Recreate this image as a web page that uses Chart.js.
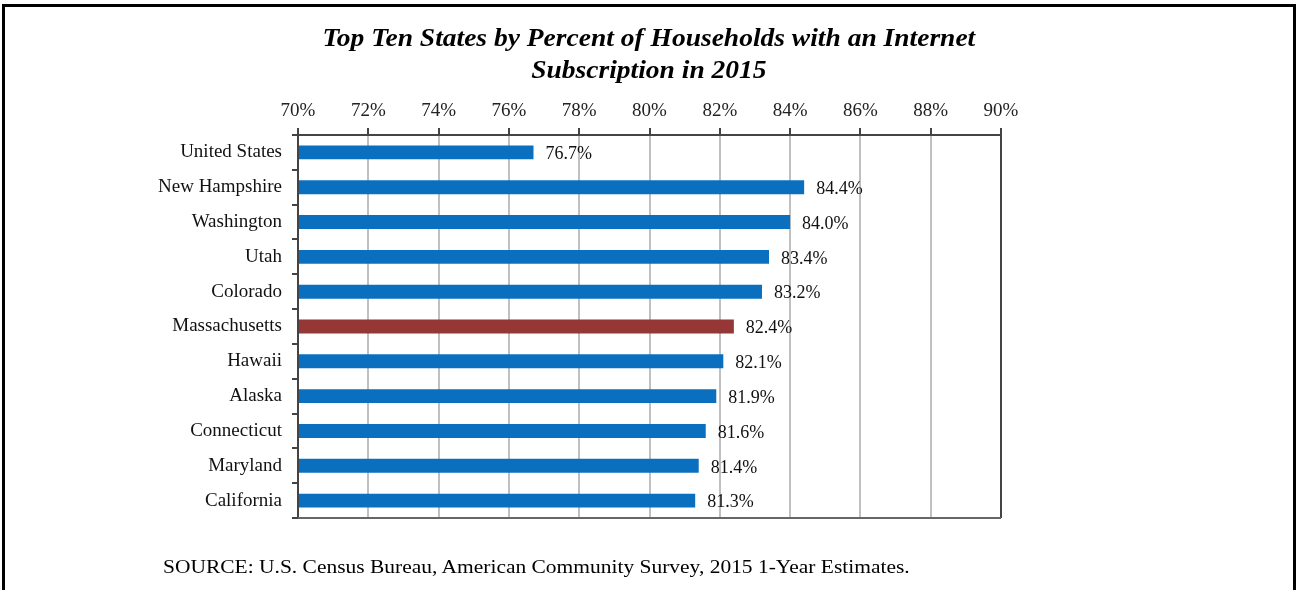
<!DOCTYPE html>
<html>
<head>
<meta charset="utf-8">
<script src="https://cdn.jsdelivr.net/npm/chart.js@4/dist/chart.umd.min.js"></script>
<style>
  body { margin: 0; background: #fff; }
  #wrap { position: relative; width: 1298px; height: 590px; overflow: hidden; }
  #frame { position: absolute; left: 2px; top: 4px; width: 1288px; height: 600px; border: 3px solid #000; }
  #title { position: absolute; left: 0; top: 22px; width: 1298px; text-align: center;
    font: italic bold 25px "Liberation Serif", serif; line-height: 32px; color: #000;
    transform: scaleX(1.1); transform-origin: 650px 0; }
  #source { position: absolute; left: 163px; top: 556px;
    font: 19px "Liberation Serif", serif; color: #000;
    transform: scaleX(1.13); transform-origin: 0 0; white-space: nowrap; }
  canvas { position: absolute; left: 0; top: 0; }
</style>
</head>
<body>
<div id="wrap">
  <div id="frame"></div>
  <canvas id="myChart" width="1298" height="590"></canvas>
  <div id="title">Top Ten States by Percent of Households with an Internet<br>Subscription in 2015</div>
  <div id="source">SOURCE: U.S. Census Bureau, American Community Survey, 2015 1-Year Estimates.</div>
</div>
<script>
const states = ['United States', 'New Hampshire', 'Washington', 'Utah', 'Colorado',
  'Massachusetts', 'Hawaii', 'Alaska', 'Connecticut', 'Maryland', 'California']
const percents = [76.7, 84.4, 84.0, 83.4, 83.2, 82.4, 82.1, 81.9, 81.6, 81.4, 81.3]
const xTicks = [70, 72, 74, 76, 78, 80, 82, 84, 86, 88, 90]

const serif = '"Liberation Serif", "Times New Roman", serif'

// value labels right of each bar
const valueLabels = {
  id: 'valueLabels',
  afterDatasetsDraw(chart) {
    const ctx = chart.ctx
    const meta = chart.getDatasetMeta(0)
    ctx.save()
    ctx.font = '18px ' + serif
    ctx.fillStyle = '#111'
    ctx.textBaseline = 'middle'
    meta.data.forEach((bar, i) => {
      ctx.fillText(percents[i].toFixed(1) + '%', bar.x + 12, bar.y + 2)
    })
    ctx.restore()
  }
}

// dark frame round the plot area
const plotBorder = {
  id: 'plotBorder',
  afterDraw(chart) {
    const {ctx, chartArea: a} = chart
    ctx.save()
    ctx.strokeStyle = '#444'
    ctx.lineWidth = 2
    ctx.beginPath()
    ctx.moveTo(a.left, a.bottom)
    ctx.lineTo(a.left, a.top)
    ctx.lineTo(a.right, a.top)
    ctx.lineTo(a.right, a.bottom)
    ctx.stroke()
    ctx.strokeStyle = '#666'
    ctx.beginPath()
    ctx.moveTo(a.left, a.bottom)
    ctx.lineTo(a.right, a.bottom)
    ctx.stroke()
    ctx.restore()
  }
}

const ctx = document.getElementById('myChart').getContext('2d')
const chart = new Chart(ctx, {
  type: 'bar',
  data: {
    labels: states,
    datasets: [{
      data: percents,
      backgroundColor: states.map(s => s === 'Massachusetts' ? '#953735' : '#0b6fc0'),
      borderWidth: 0,
      barPercentage: 0.8,
      categoryPercentage: 0.5
    }]
  },
  options: {
    indexAxis: 'y',
    responsive: false,
    animation: false,
    layout: { padding: { top: 92, right: 297, bottom: 72, left: 0 } },
    plugins: { legend: { display: false }, tooltip: { enabled: false } },
    scales: {
      x: {
        position: 'top',
        min: 70,
        max: 90,
        afterBuildTicks: scale => { scale.ticks = xTicks.map(v => ({ value: v })) },
        afterFit: scale => { scale.height = 43 },
        grid: { color: '#c0c0c0', lineWidth: 2, tickColor: '#444', tickLength: 7 },
        border: { display: false },
        ticks: {
          font: { family: serif, size: 19 },
          color: '#222',
          padding: 6,
          maxRotation: 0,
          callback: v => v + '%'
        }
      },
      y: {
        afterFit: scale => { scale.width = 298 },
        grid: { drawOnChartArea: false, tickColor: '#444', tickLength: 6, lineWidth: 2 },
        border: { display: false },
        ticks: {
          font: { family: serif, size: 19 },
          color: '#111',
          padding: 10
        }
      }
    }
  },
  plugins: [valueLabels, plotBorder]
})
</script>
</body>
</html>
